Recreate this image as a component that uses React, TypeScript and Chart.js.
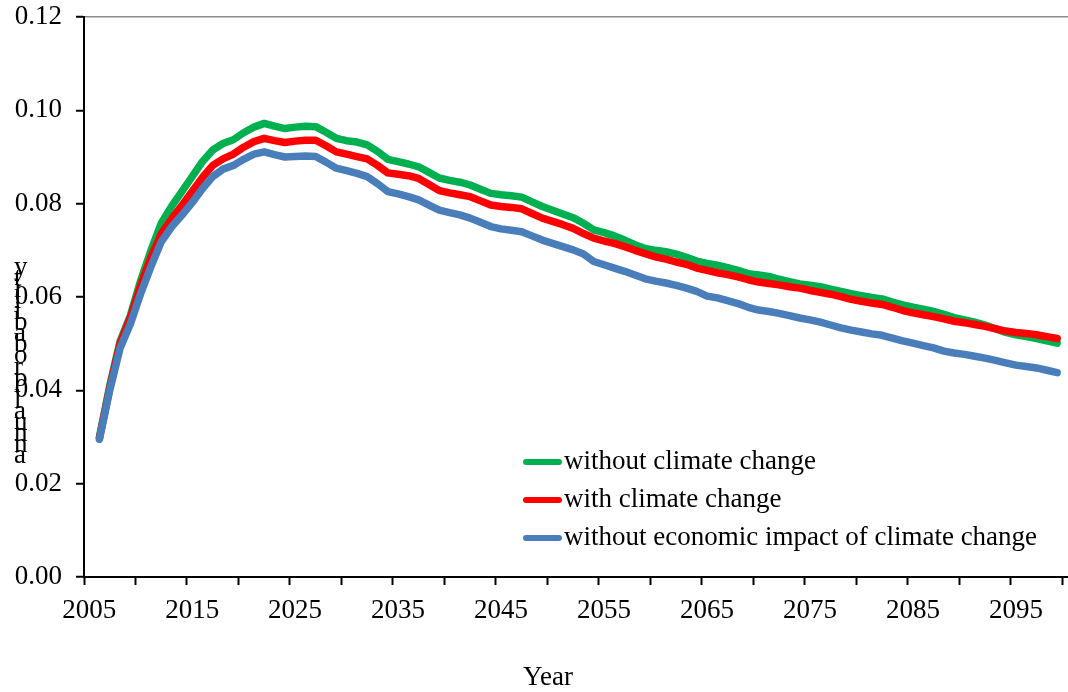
import React, { useEffect, useRef } from 'react';
import { Chart, registerables } from 'chart.js';

Chart.register(...registerables);

const YEARS = [
  2006, 2007, 2008, 2009, 2010, 2011, 2012, 2013, 2014, 2015,
  2016, 2017, 2018, 2019, 2020, 2021, 2022, 2023, 2024, 2025,
  2026, 2027, 2028, 2029, 2030, 2031, 2032, 2033, 2034, 2035,
  2036, 2037, 2038, 2039, 2040, 2041, 2042, 2043, 2044, 2045,
  2046, 2047, 2048, 2049, 2050, 2051, 2052, 2053, 2054, 2055,
  2056, 2057, 2058, 2059, 2060, 2061, 2062, 2063, 2064, 2065,
  2066, 2067, 2068, 2069, 2070, 2071, 2072, 2073, 2074, 2075,
  2076, 2077, 2078, 2079, 2080, 2081, 2082, 2083, 2084, 2085,
  2086, 2087, 2088, 2089, 2090, 2091, 2092, 2093, 2094, 2095,
  2096, 2097, 2098, 2099,
];

const WITHOUT_CC = [
  0.0300, 0.0410, 0.0505, 0.0560, 0.0635, 0.0700, 0.0758, 0.0794, 0.0826, 0.0858,
  0.0890, 0.0915, 0.0929, 0.0937, 0.0952, 0.0964, 0.0972, 0.0966, 0.0961, 0.0964,
  0.0966, 0.0965, 0.0953, 0.0940, 0.0935, 0.0932, 0.0926, 0.0912, 0.0895, 0.0890,
  0.0885, 0.0879, 0.0867, 0.0855, 0.0850, 0.0846, 0.0840, 0.0831, 0.0822, 0.0819,
  0.0817, 0.0814, 0.0804, 0.0794, 0.0786, 0.0778, 0.0770, 0.0758, 0.0744, 0.0738,
  0.0731, 0.0722, 0.0712, 0.0704, 0.0700, 0.0697, 0.0692, 0.0685, 0.0677, 0.0672,
  0.0668, 0.0663, 0.0657, 0.0650, 0.0647, 0.0644, 0.0638, 0.0633, 0.0628, 0.0625,
  0.0622, 0.0617, 0.0612, 0.0607, 0.0603, 0.0599, 0.0596, 0.0589, 0.0583, 0.0578,
  0.0574, 0.0569, 0.0563, 0.0556, 0.0551, 0.0546, 0.0540, 0.0532, 0.0524, 0.0519,
  0.0515, 0.0511, 0.0506, 0.0501,
];

const WITH_CC = [
  0.0298, 0.0405, 0.0500, 0.0555, 0.0625, 0.0685, 0.0735, 0.0767, 0.0796, 0.0826,
  0.0856, 0.0882, 0.0896, 0.0906, 0.0921, 0.0933, 0.0940, 0.0935, 0.0931, 0.0934,
  0.0936, 0.0936, 0.0924, 0.0911, 0.0906, 0.0901, 0.0896, 0.0882, 0.0866, 0.0863,
  0.0860, 0.0854, 0.0841, 0.0828, 0.0823, 0.0819, 0.0815, 0.0806, 0.0797, 0.0794,
  0.0792, 0.0789, 0.0779, 0.0769, 0.0762, 0.0755, 0.0747, 0.0736, 0.0726, 0.0720,
  0.0715, 0.0708, 0.0700, 0.0693, 0.0686, 0.0681, 0.0675, 0.0670, 0.0662, 0.0657,
  0.0652, 0.0648, 0.0643, 0.0637, 0.0632, 0.0629, 0.0626, 0.0622, 0.0619, 0.0614,
  0.0610, 0.0606, 0.0601, 0.0595, 0.0591, 0.0587, 0.0584, 0.0578, 0.0571, 0.0566,
  0.0562, 0.0558, 0.0553, 0.0548, 0.0545, 0.0541, 0.0537, 0.0532, 0.0527, 0.0524,
  0.0522, 0.0519, 0.0515, 0.0511,
];

const WITHOUT_ECON = [
  0.0295, 0.0400, 0.0490, 0.0542, 0.0607, 0.0665, 0.0718, 0.0750, 0.0775, 0.0802,
  0.0832, 0.0858, 0.0874, 0.0882, 0.0895, 0.0906, 0.0911, 0.0905, 0.0900, 0.0901,
  0.0902, 0.0901, 0.0889, 0.0876, 0.0871, 0.0865, 0.0858, 0.0843, 0.0826, 0.0821,
  0.0815, 0.0808, 0.0797, 0.0786, 0.0781, 0.0776, 0.0769, 0.0760, 0.0751, 0.0746,
  0.0743, 0.0740, 0.0731, 0.0722, 0.0715, 0.0708, 0.0701, 0.0692, 0.0676, 0.0669,
  0.0662, 0.0655, 0.0647, 0.0639, 0.0634, 0.0630, 0.0625, 0.0619, 0.0612, 0.0602,
  0.0598, 0.0592, 0.0586, 0.0578, 0.0572, 0.0569, 0.0565, 0.0560, 0.0555, 0.0551,
  0.0546, 0.0540, 0.0534, 0.0529, 0.0525, 0.0521, 0.0518, 0.0512, 0.0506, 0.0501,
  0.0496, 0.0491, 0.0484, 0.0480, 0.0477, 0.0473, 0.0469, 0.0464, 0.0459, 0.0454,
  0.0451, 0.0448, 0.0443, 0.0438,
];

const SERIES_LABELS = [
  'without climate change',
  'with climate change',
  'without economic impact of climate change',
];
const SERIES_COLORS = ['#00B050', '#FF0000', '#4A7EBB'];

// tick marks sit on category boundaries, labels on category centres
const X_TICK_MARKS = [
  2004.5, 2009.5, 2014.5, 2019.5, 2024.5, 2029.5, 2034.5, 2039.5, 2044.5, 2049.5,
  2054.5, 2059.5, 2064.5, 2069.5, 2074.5, 2079.5, 2084.5, 2089.5, 2094.5, 2099.5,
];
const X_TICK_LABELS = ['2005', '2015', '2025', '2035', '2045', '2055', '2065', '2075', '2085', '2095'];
const Y_TICKS = [0, 0.02, 0.04, 0.06, 0.08, 0.1, 0.12];

const Y_TITLE = 'annual probability';
const X_TITLE = 'Year';

const FONT = '"Liberation Serif", "Times New Roman", serif';
const FS = 27;

const overlayPlugin = {
  id: 'overlay',
  afterDraw(chart: any) {
    const ctx = chart.ctx;
    ctx.save();
    // legend inside plot
    const lx0 = 526;
    const lx1 = 559;
    const ys = [462, 500, 538];
    ctx.font = `${FS}px ${FONT}`;
    ctx.textBaseline = 'middle';
    ctx.textAlign = 'left';
    SERIES_LABELS.forEach((label, i) => {
      ctx.strokeStyle = SERIES_COLORS[i];
      ctx.lineWidth = 6;
      ctx.lineCap = 'round';
      ctx.beginPath();
      ctx.moveTo(lx0, ys[i]);
      ctx.lineTo(lx1, ys[i]);
      ctx.stroke();
      ctx.fillStyle = '#000';
      ctx.fillText(label, 564, ys[i]);
    });
    // x axis title
    ctx.textAlign = 'center';
    ctx.fillText(X_TITLE, 548, 678);
    // stacked vertical title (letters bottom-to-top)
    const letters = Y_TITLE.split('').reverse();
    ctx.font = `${FS}px ${FONT}`;
    ctx.textAlign = 'left';
    ctx.textBaseline = 'alphabetic';
    letters.forEach((ch, i) => {
      ctx.fillText(ch, 14, 275 + i * 11.06);
    });
    ctx.restore();
  },
};

export default function App() {
  const ref = useRef<HTMLCanvasElement | null>(null);
  useEffect(() => {
    if (!ref.current) return;
    const seriesValues = [WITHOUT_CC, WITH_CC, WITHOUT_ECON];
    const chart = new Chart(ref.current, {
      type: 'line',
      data: {
        datasets: seriesValues.map((vals, i) => ({
          label: SERIES_LABELS[i],
          data: YEARS.map((y, j) => ({ x: y, y: vals[j] })),
          borderColor: SERIES_COLORS[i],
          backgroundColor: SERIES_COLORS[i],
          borderWidth: 7.5,
          pointRadius: 0,
          tension: 0,
          borderCapStyle: 'round',
          borderJoinStyle: 'round',
          fill: false,
          order: 3 - i,
        })),
      },
      options: {
        animation: false,
        responsive: false,
        devicePixelRatio: 1,
        layout: { padding: { top: 17, right: 0, left: 0, bottom: 0 } },
        plugins: {
          legend: { display: false },
          tooltip: { enabled: false },
        },
        scales: {
          x: {
            type: 'linear',
            min: 2004.5,
            max: 2100.05,
            afterBuildTicks: (scale: any) => {
              scale.ticks = X_TICK_MARKS.map((v) => ({ value: v }));
            },
            afterFit: (scale: any) => {
              scale.height = 115;
              scale.paddingLeft = 0;
              scale.paddingRight = 0;
            },
            ticks: {
              autoSkip: false,
              maxRotation: 0,
              labelOffset: 5.15,
              padding: 10,
              color: '#000',
              font: { family: FONT, size: FS },
              callback: (_v: any, index: number) =>
                index % 2 === 0 ? X_TICK_LABELS[index / 2] ?? '' : '',
            },
            grid: {
              drawOnChartArea: false,
              drawTicks: true,
              tickLength: 8,
              tickColor: '#000',
              tickWidth: 2,
            },
            border: { display: true, color: '#000', width: 2 },
          },
          y: {
            type: 'linear',
            min: 0,
            max: 0.12,
            afterBuildTicks: (scale: any) => {
              scale.ticks = Y_TICKS.map((v) => ({ value: v }));
            },
            afterFit: (scale: any) => {
              scale.width = 84;
              scale.paddingTop = 0;
              scale.paddingBottom = 0;
            },
            ticks: {
              padding: 14,
              color: '#000',
              font: { family: FONT, size: FS },
              callback: (v: any) => Number(v).toFixed(2),
            },
            grid: {
              drawOnChartArea: true,
              drawTicks: true,
              tickLength: 8,
              tickColor: '#000',
              tickWidth: 2,
              lineWidth: 1.5,
              color: (c: any) =>
                c.tick && Math.abs(c.tick.value - 0.12) < 1e-9 ? '#8a8a8a' : 'rgba(0,0,0,0)',
            },
            border: { display: true, color: '#000', width: 2 },
          },
        },
      },
      plugins: [overlayPlugin],
    } as any);
    return () => chart.destroy();
  }, []);

  return (
    <div style={{ position: 'absolute', left: 0, top: 0, width: 1068, height: 692, background: '#fff' }}>
      <canvas ref={ref} width={1068} height={692} />
    </div>
  );
}
